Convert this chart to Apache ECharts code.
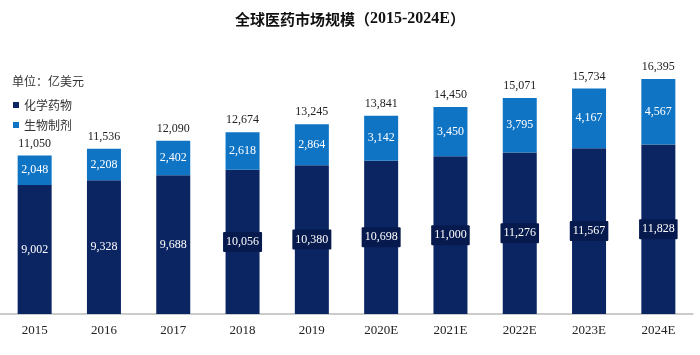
<!DOCTYPE html>
<html><head><meta charset="utf-8">
<script src="https://cdn.jsdelivr.net/npm/echarts@6/dist/echarts.min.js"></script>
<style>html,body{margin:0;padding:0;background:#fff}#c{width:700px;height:355px}</style>
</head><body><div id="c"></div>
<script>
var categories = ['2015','2016','2017','2018','2019','2020E','2021E','2022E','2023E','2024E'];
var chemical = [9002,9328,9688,10056,10380,10698,11000,11276,11567,11828];
var biologic = [2048,2208,2402,2618,2864,3142,3450,3795,4167,4567];
var totals = [11050,11536,12090,12674,13245,13841,14450,15071,15734,16395];

var serif = '"Liberation Serif","DejaVu Serif",serif';
var cjk = '"Noto Sans CJK SC","Liberation Serif",serif';
function fmt(v){return v.toLocaleString('en-US');}

var chart = echarts.init(document.getElementById('c'));
chart.setOption({
  animation:false,
  title:{text:'{a|全球医药市场规模（}{b|2015-2024E}{a|）}',left:'center',top:6,
    textStyle:{rich:{
      a:{fontFamily:cjk,fontSize:15,fontWeight:'bold',color:'#111'},
      b:{fontFamily:serif,fontSize:16,fontWeight:'bold',color:'#111'}}}},
  graphic:[{type:'text',left:12,top:75,style:{text:'单位：亿美元',font:'12px '+cjk,fill:'#333'}}],
  legend:{orient:'vertical',left:8,top:94,itemWidth:6,itemHeight:6,itemGap:8,icon:'rect',
    textStyle:{fontFamily:cjk,fontSize:12,color:'#333'},data:['化学药物','生物制剂']},
  grid:{left:-3,right:7,top:56,bottom:41},
  xAxis:{type:'category',data:categories,
    axisLine:{lineStyle:{color:'#bbbbbb',width:1.5}},axisTick:{show:false},
    axisLabel:{fontFamily:serif,fontSize:13,color:'#222',margin:10}},
  yAxis:{type:'value',min:0,max:18000,show:false,splitLine:{show:false}},
  series:[
    {name:'化学药物',type:'bar',stack:'a',barWidth:34,
      data:chemical.map(function(v){
        return v>=10000?{value:v,label:{backgroundColor:'#071a4e',padding:[4,3],borderRadius:1}}:v;}),
      itemStyle:{color:'#0b2462'},
      label:{show:true,position:'inside',color:'#fff',fontFamily:serif,fontSize:12,
        formatter:function(p){return fmt(p.value);}}
    },
    {name:'生物制剂',type:'bar',stack:'a',barWidth:34,data:biologic,
      itemStyle:{color:'#0f74c4'},
      label:{show:true,position:'inside',color:'#fff',fontFamily:serif,fontSize:12,
        formatter:function(p){return fmt(p.value);}}
    },
    {name:'total',type:'bar',stack:'a',barWidth:34,data:totals.map(function(){return 0;}),
      itemStyle:{color:'transparent'},
      label:{show:true,position:'top',distance:6,color:'#222',fontFamily:serif,fontSize:12,
        formatter:function(p){return fmt(totals[p.dataIndex]);}}
    }
  ]
});
</script></body></html>
